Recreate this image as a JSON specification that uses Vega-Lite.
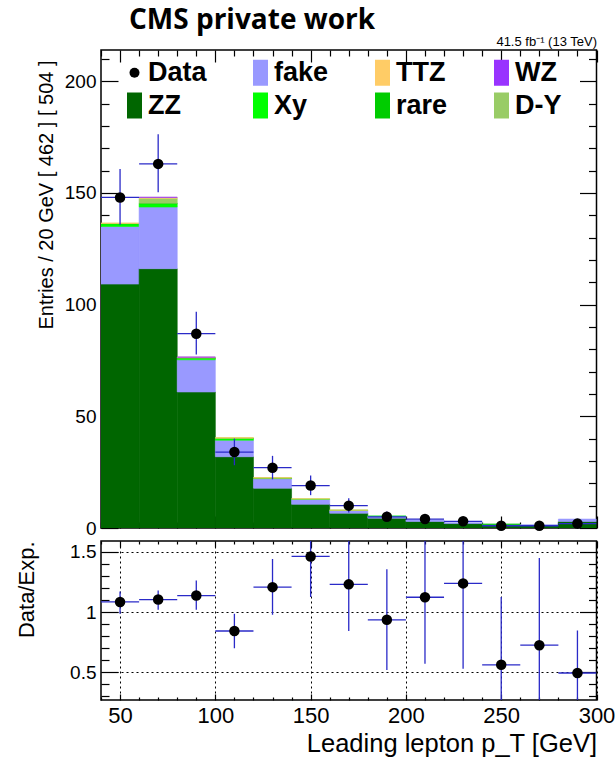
{
  "$schema": "https://vega.github.io/schema/vega-lite/v6.json",
  "padding": {"left": 14, "top": 6, "right": 0, "bottom": 0},
  "background": "white",
  "config": {
    "view": {"stroke": "black", "strokeWidth": 1.5},
    "axis": {
      "domain": false, "grid": false,
      "labelFont": "Liberation Sans", "titleFont": "Liberation Sans",
      "labelColor": "black", "titleColor": "black", "titleFontWeight": "normal",
      "tickColor": "black", "tickWidth": 1.2,
      "labelOverlap": false, "labelFlush": false
    }
  },
  "datasets": {
    "stack": [
      {"lo": 40, "hi": 60, "process": "ZZ", "n": 109.2},
      {"lo": 40, "hi": 60, "process": "fake", "n": 25.8},
      {"lo": 40, "hi": 60, "process": "Xy", "n": 1.2},
      {"lo": 40, "hi": 60, "process": "rare", "n": 0.1},
      {"lo": 40, "hi": 60, "process": "D-Y", "n": 0.1},
      {"lo": 40, "hi": 60, "process": "TTZ", "n": 0.1},
      {"lo": 60, "hi": 80, "process": "ZZ", "n": 116.1},
      {"lo": 60, "hi": 80, "process": "fake", "n": 27.6},
      {"lo": 60, "hi": 80, "process": "Xy", "n": 1.5},
      {"lo": 60, "hi": 80, "process": "rare", "n": 0.2},
      {"lo": 60, "hi": 80, "process": "D-Y", "n": 2.2},
      {"lo": 60, "hi": 80, "process": "TTZ", "n": 0.4},
      {"lo": 60, "hi": 80, "process": "WZ", "n": 0.1},
      {"lo": 80, "hi": 100, "process": "ZZ", "n": 60.9},
      {"lo": 80, "hi": 100, "process": "fake", "n": 14.4},
      {"lo": 80, "hi": 100, "process": "Xy", "n": 0.7},
      {"lo": 80, "hi": 100, "process": "rare", "n": 0.1},
      {"lo": 80, "hi": 100, "process": "D-Y", "n": 0.2},
      {"lo": 80, "hi": 100, "process": "TTZ", "n": 0.2},
      {"lo": 80, "hi": 100, "process": "WZ", "n": 0.05},
      {"lo": 100, "hi": 120, "process": "ZZ", "n": 31.9},
      {"lo": 100, "hi": 120, "process": "fake", "n": 7.4},
      {"lo": 100, "hi": 120, "process": "Xy", "n": 0.8},
      {"lo": 100, "hi": 120, "process": "rare", "n": 0.1},
      {"lo": 100, "hi": 120, "process": "D-Y", "n": 0.1},
      {"lo": 100, "hi": 120, "process": "TTZ", "n": 0.1},
      {"lo": 120, "hi": 140, "process": "ZZ", "n": 17.8},
      {"lo": 120, "hi": 140, "process": "fake", "n": 4.3},
      {"lo": 120, "hi": 140, "process": "Xy", "n": 0.2},
      {"lo": 120, "hi": 140, "process": "rare", "n": 0.05},
      {"lo": 120, "hi": 140, "process": "D-Y", "n": 0.05},
      {"lo": 120, "hi": 140, "process": "TTZ", "n": 0.1},
      {"lo": 140, "hi": 160, "process": "ZZ", "n": 10.6},
      {"lo": 140, "hi": 160, "process": "fake", "n": 2.3},
      {"lo": 140, "hi": 160, "process": "Xy", "n": 0.1},
      {"lo": 140, "hi": 160, "process": "TTZ", "n": 0.1},
      {"lo": 160, "hi": 180, "process": "ZZ", "n": 6.6},
      {"lo": 160, "hi": 180, "process": "fake", "n": 1.3},
      {"lo": 160, "hi": 180, "process": "Xy", "n": 0.05},
      {"lo": 160, "hi": 180, "process": "TTZ", "n": 0.15},
      {"lo": 180, "hi": 200, "process": "ZZ", "n": 4.4},
      {"lo": 180, "hi": 200, "process": "fake", "n": 0.9},
      {"lo": 180, "hi": 200, "process": "Xy", "n": 0.05},
      {"lo": 200, "hi": 220, "process": "ZZ", "n": 2.9},
      {"lo": 200, "hi": 220, "process": "fake", "n": 0.7},
      {"lo": 220, "hi": 240, "process": "ZZ", "n": 2.0},
      {"lo": 220, "hi": 240, "process": "fake", "n": 0.4},
      {"lo": 240, "hi": 260, "process": "ZZ", "n": 1.5},
      {"lo": 240, "hi": 260, "process": "fake", "n": 0.1},
      {"lo": 240, "hi": 260, "process": "rare", "n": 0.2},
      {"lo": 260, "hi": 280, "process": "ZZ", "n": 1.2},
      {"lo": 260, "hi": 280, "process": "fake", "n": 0.2},
      {"lo": 280, "hi": 300, "process": "ZZ", "n": 2.9},
      {"lo": 280, "hi": 300, "process": "fake", "n": 1.1}
    ],
    "data": [
      {"process": "Data", "x": 50, "lo": 40, "hi": 60, "n": 148, "nlo": 135.8, "nhi": 160.7, "r": 1.084, "rlo": 0.986, "rhi": 1.17},
      {"process": "Data", "x": 70, "lo": 60, "hi": 80, "n": 163, "nlo": 150.3, "nhi": 176.3, "r": 1.104, "rlo": 1.02, "rhi": 1.18},
      {"process": "Data", "x": 90, "lo": 80, "hi": 100, "n": 87, "nlo": 77.7, "nhi": 96.8, "r": 1.137, "rlo": 1.02, "rhi": 1.263},
      {"process": "Data", "x": 110, "lo": 100, "hi": 120, "n": 34, "nlo": 28.1, "nhi": 40.0, "r": 0.843, "rlo": 0.70, "rhi": 0.986},
      {"process": "Data", "x": 130, "lo": 120, "hi": 140, "n": 27, "nlo": 21.8, "nhi": 32.3, "r": 1.207, "rlo": 0.978, "rhi": 1.44},
      {"process": "Data", "x": 150, "lo": 140, "hi": 160, "n": 19, "nlo": 14.7, "nhi": 23.5, "r": 1.462, "rlo": 1.126, "rhi": 1.80},
      {"process": "Data", "x": 170, "lo": 160, "hi": 180, "n": 10, "nlo": 6.9, "nhi": 13.3, "r": 1.23, "rlo": 0.843, "rhi": 1.64},
      {"process": "Data", "x": 190, "lo": 180, "hi": 200, "n": 5, "nlo": 2.8, "nhi": 7.4, "r": 0.936, "rlo": 0.52, "rhi": 1.356},
      {"process": "Data", "x": 210, "lo": 200, "hi": 220, "n": 4, "nlo": 2.1, "nhi": 6.2, "r": 1.123, "rlo": 0.571, "rhi": 1.85},
      {"process": "Data", "x": 230, "lo": 220, "hi": 240, "n": 3, "nlo": 1.4, "nhi": 4.9, "r": 1.238, "rlo": 0.53, "rhi": 2.05},
      {"process": "Data", "x": 250, "lo": 240, "hi": 260, "n": 1, "nlo": 0.2, "nhi": 2.3, "r": 0.562, "rlo": 0.05, "rhi": 1.126},
      {"process": "Data", "x": 270, "lo": 260, "hi": 280, "n": 1, "nlo": 0.2, "nhi": 2.3, "r": 0.725, "rlo": 0.12, "rhi": 1.448},
      {"process": "Data", "x": 290, "lo": 280, "hi": 300, "n": 2, "nlo": 0.7, "nhi": 3.6, "r": 0.494, "rlo": 0.05, "rhi": 0.846}
    ]
  },
  "spacing": 0,
  "vconcat": [
    {
      "width": 495.5,
      "height": 478,
      "title": {"text": "CMS private work", "anchor": "start", "frame": "group", "dx": 28, "font": "Open Sans", "fontSize": 28, "fontWeight": "bold", "color": "black", "offset": 0},
      "layer": [
        {
          "data": {"name": "stack"},
          "transform": [
            {"calculate": "indexof(['ZZ','fake','Xy','rare','D-Y','TTZ','WZ'], datum.process)", "as": "ord"},
            {"stack": "n", "groupby": ["lo"], "sort": [{"field": "ord", "order": "ascending"}], "as": ["y0", "y1"]}
          ],
          "mark": {"type": "bar", "clip": true, "strokeWidth": 0.6},
          "encoding": {
            "x": {"field": "lo", "type": "quantitative", "scale": {"domain": [40, 300], "nice": false, "zero": false},
                  "axis": {"orient": "bottom", "values": [40,50,60,70,80,90,100,110,120,130,140,150,160,170,180,190,200,210,220,230,240,250,260,270,280,290,300],
                           "labels": false, "title": null,
                           "tickSize": {"condition": {"test": "datum.value % 50 === 0", "value": -12}, "value": -6}}},
            "x2": {"field": "hi"},
            "y": {"field": "y0", "type": "quantitative", "scale": {"domain": [0, 214], "nice": false},
                  "axis": {"orient": "left", "values": [0,10,20,30,40,50,60,70,80,90,100,110,120,130,140,150,160,170,180,190,200,210],
                           "labelExpr": "datum.value % 50 === 0 ? format(datum.value, '~g') : ''",
                           "labelFontSize": 19, "labelPadding": 22,
                           "tickSize": {"condition": {"test": "datum.value % 50 === 0", "value": -17}, "value": -8},
                           "title": "Entries / 20 GeV  [ 462 ]  [ 504 ]", "titleAnchor": "end", "titleFontSize": 20, "titlePadding": 8, "titleY": 10}},
            "y2": {"field": "y1"},
            "color": {"field": "process", "type": "nominal",
                      "scale": {"domain": ["Data", "fake", "TTZ", "WZ", "ZZ", "Xy", "rare", "D-Y"],
                                "range": ["#000000", "#9999ff", "#ffcc66", "#9933ff", "#006600", "#00ff00", "#00cc00", "#99cc66"]},
                      "legend": {"orient": "none", "legendX": 20, "legendY": 9, "columns": 4, "direction": "horizontal", "title": null,
                                 "labelFont": "Liberation Sans", "labelFontWeight": "bold", "labelFontSize": 27, "labelColor": "black",
                                 "symbolSize": 100, "symbolStrokeWidth": 0, "symbolOpacity": 1, "columnPadding": 40, "rowPadding": 5, "labelOffset": 0,
                                 "encode": {"symbols": {"update": {"shape": {"signal": "datum.value === 'Data' ? 'circle' : 'M-1.5,-2.6H1.5V2.6H-1.5Z'"}}}}}},
            "stroke": {"field": "process", "type": "nominal", "legend": null,
                       "scale": {"domain": ["Data", "fake", "TTZ", "WZ", "ZZ", "Xy", "rare", "D-Y"],
                                 "range": ["#000000", "#9999ff", "#ffcc66", "#9933ff", "#006600", "#00ff00", "#00cc00", "#99cc66"]}}
          }
        },
        {
          "data": {"name": "data"},
          "mark": {"type": "rule", "color": "#2a2ac8", "strokeWidth": 1.3, "clip": true},
          "encoding": {
            "x": {"field": "x", "type": "quantitative", "axis": null},
            "y": {"field": "nlo", "type": "quantitative", "axis": null},
            "y2": {"field": "nhi"}
          }
        },
        {
          "data": {"name": "data"},
          "mark": {"type": "rule", "color": "#2a2ac8", "strokeWidth": 1.3, "clip": true},
          "encoding": {
            "x": {"field": "lo", "type": "quantitative",
                  "axis": {"orient": "top", "values": [40,50,60,70,80,90,100,110,120,130,140,150,160,170,180,190,200,210,220,230,240,250,260,270,280,290,300],
                           "labels": false,
                           "tickSize": {"condition": {"test": "datum.value % 50 === 0", "value": -12}, "value": -6},
                           "title": "41.5 fb⁻¹ (13 TeV)", "titleAnchor": "end", "titleFontSize": 13, "titlePadding": 1}},
            "x2": {"field": "hi"},
            "y": {"field": "n", "type": "quantitative",
                  "axis": {"orient": "right", "values": [0,10,20,30,40,50,60,70,80,90,100,110,120,130,140,150,160,170,180,190,200,210],
                           "labels": false, "title": null,
                           "tickSize": {"condition": {"test": "datum.value % 50 === 0", "value": -17}, "value": -8}}}
          }
        },
        {
          "data": {"name": "data"},
          "mark": {"type": "point", "filled": true, "size": 110, "opacity": 1},
          "encoding": {
            "x": {"field": "x", "type": "quantitative", "axis": null},
            "y": {"field": "n", "type": "quantitative", "axis": null},
            "color": {"field": "process", "type": "nominal"}
          }
        }
      ],
      "resolve": {"axis": {"x": "independent", "y": "independent"}}
    },
    {
      "width": 495.5,
      "height": 159,
      "layer": [
        {
          "data": {"name": "data"},
          "mark": {"type": "rule", "color": "#2a2ac8", "strokeWidth": 1.3, "clip": true},
          "encoding": {
            "x": {"field": "x", "type": "quantitative", "scale": {"domain": [40, 300], "nice": false, "zero": false},
                  "axis": {"orient": "bottom", "values": [40,50,60,70,80,90,100,110,120,130,140,150,160,170,180,190,200,210,220,230,240,250,260,270,280,290,300],
                           "labelExpr": "datum.value % 50 === 0 ? format(datum.value, '~g') : ''",
                           "labelFontSize": 22, "labelPadding": 11,
                           "tickSize": {"condition": {"test": "datum.value % 50 === 0", "value": -6}, "value": -3},
                           "grid": true, "gridColor": "black", "gridDash": [2, 3], "gridWidth": 1,
                           "gridOpacity": {"condition": {"test": "datum.value % 50 === 0", "value": 1}, "value": 0},
                           "title": "Leading lepton p_T [GeV]", "titleAnchor": "end", "titleFontSize": 25.5, "titlePadding": 2}},
            "y": {"field": "rlo", "type": "quantitative", "scale": {"domain": [0.27, 1.59], "nice": false, "zero": false},
                  "axis": {"orient": "left", "values": [0.3,0.4,0.5,0.6,0.7,0.8,0.9,1,1.1,1.2,1.3,1.4,1.5],
                           "labelExpr": "abs(datum.value*2 - round(datum.value*2)) < 0.001 ? format(datum.value, '~g') : ''",
                           "labelFontSize": 19, "labelPadding": 22,
                           "tickSize": {"condition": {"test": "abs(datum.value*2 - round(datum.value*2)) < 0.001", "value": -17}, "value": -8},
                           "grid": true, "gridColor": "black", "gridDash": [2, 3], "gridWidth": 1,
                           "gridOpacity": {"condition": {"test": "abs(datum.value*2 - round(datum.value*2)) < 0.001", "value": 1}, "value": 0},
                           "title": "Data/Exp.", "titleAnchor": "end", "titleFontSize": 22, "titlePadding": 31}},
            "y2": {"field": "rhi"}
          }
        },
        {
          "data": {"name": "data"},
          "mark": {"type": "rule", "color": "#2a2ac8", "strokeWidth": 1.3, "clip": true},
          "encoding": {
            "x": {"field": "lo", "type": "quantitative",
                  "axis": {"orient": "top", "values": [40,50,60,70,80,90,100,110,120,130,140,150,160,170,180,190,200,210,220,230,240,250,260,270,280,290,300],
                           "labels": false, "title": null,
                           "tickSize": {"condition": {"test": "datum.value % 50 === 0", "value": -6}, "value": -3}}},
            "x2": {"field": "hi"},
            "y": {"field": "r", "type": "quantitative",
                  "axis": {"orient": "right", "values": [0.3,0.4,0.5,0.6,0.7,0.8,0.9,1,1.1,1.2,1.3,1.4,1.5],
                           "labels": false, "title": null,
                           "tickSize": {"condition": {"test": "abs(datum.value*2 - round(datum.value*2)) < 0.001", "value": -17}, "value": -8}}}
          }
        },
        {
          "data": {"name": "data"},
          "mark": {"type": "point", "filled": true, "size": 110, "opacity": 1, "color": "black"},
          "encoding": {
            "x": {"field": "x", "type": "quantitative", "axis": null},
            "y": {"field": "r", "type": "quantitative", "axis": null}
          }
        }
      ],
      "resolve": {"axis": {"x": "independent", "y": "independent"}}
    }
  ]
}
